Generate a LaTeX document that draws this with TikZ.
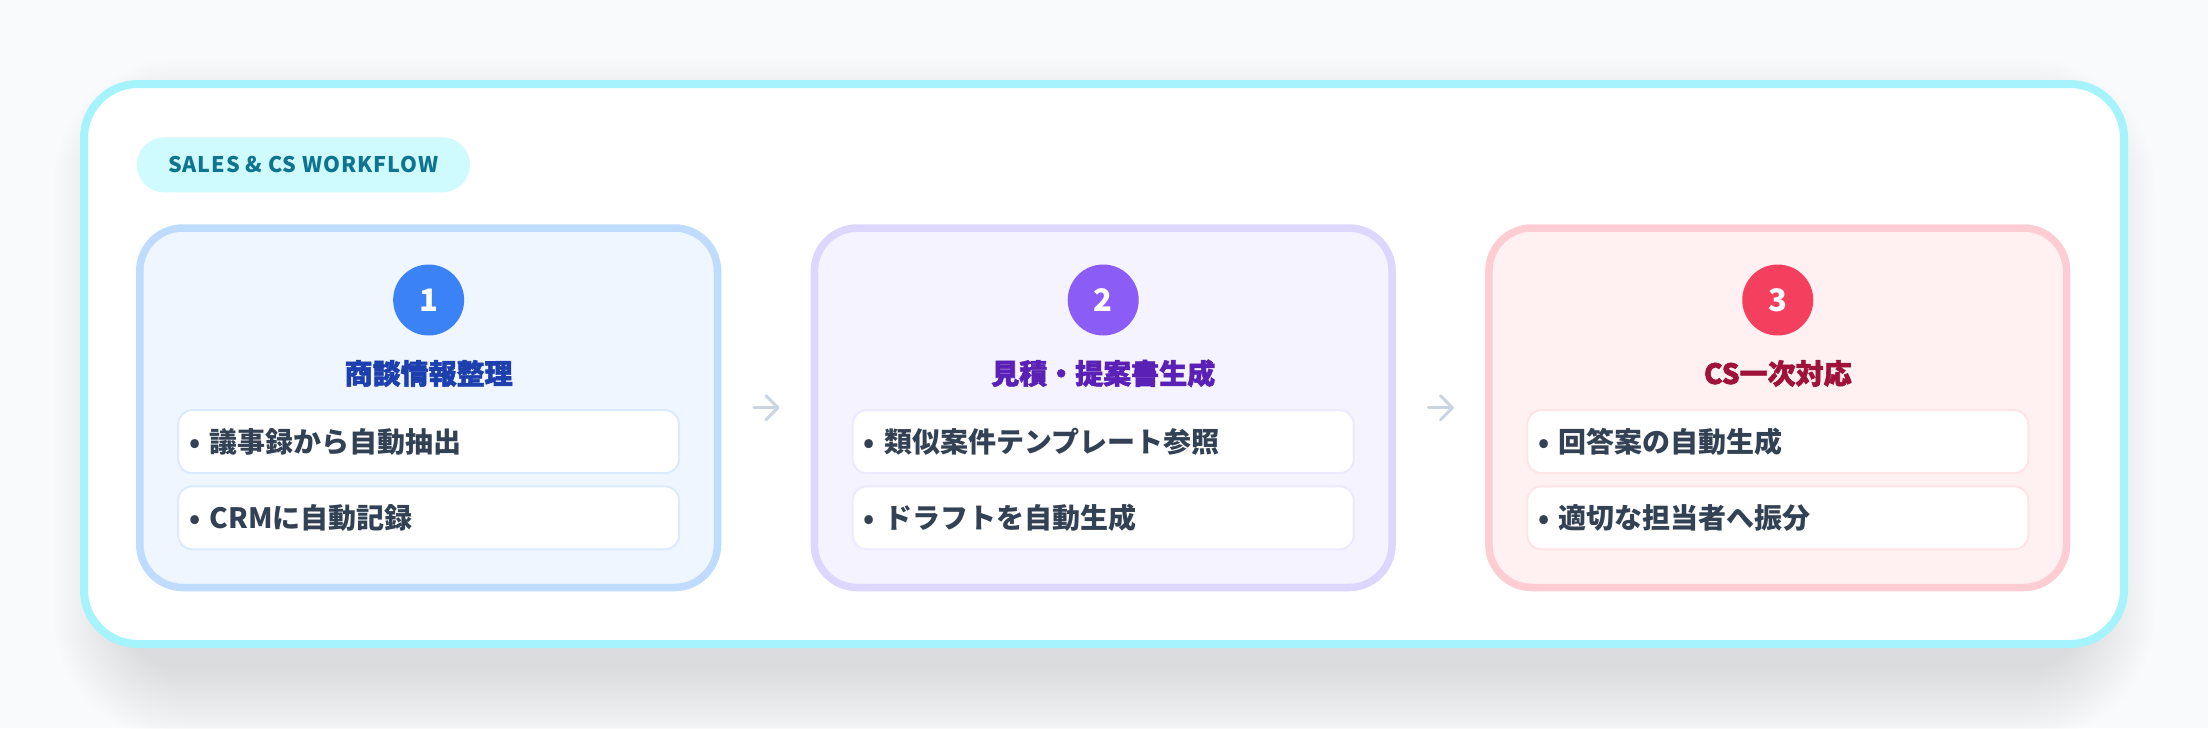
\documentclass[tikz,border=0pt]{standalone}
\usepackage{fontspec}
\setmainfont{Noto Sans CJK JP}
\newfontfamily\badgefont{Noto Sans CJK JP}[LetterSpace=4.5]
\newfontfamily\titlefont{Noto Sans CJK JP}[BoldFeatures={FakeBold=2}]
\usetikzlibrary{calc}
\definecolor{bgC}{HTML}{F8FAFC}
\definecolor{frameC}{HTML}{A5F3FC}
\definecolor{badgeFill}{HTML}{CFFAFE}
\definecolor{badgeText}{HTML}{0E7490}
\definecolor{itemText}{HTML}{334155}
\definecolor{arrowC}{HTML}{CBD5E1}
\definecolor{blueFill}{HTML}{EFF6FF}
\definecolor{blueLine}{HTML}{BFDBFE}
\definecolor{blueItem}{HTML}{DBEAFE}
\definecolor{blueDot}{HTML}{3B82F6}
\definecolor{blueTitle}{HTML}{1E40AF}
\definecolor{violetFill}{HTML}{F5F3FF}
\definecolor{violetLine}{HTML}{DDD6FE}
\definecolor{violetItem}{HTML}{EDE9FE}
\definecolor{violetDot}{HTML}{8B5CF6}
\definecolor{violetTitle}{HTML}{5B21B6}
\definecolor{roseFill}{HTML}{FFF1F2}
\definecolor{roseLine}{HTML}{FECDD3}
\definecolor{roseItem}{HTML}{FFE4E6}
\definecolor{roseDot}{HTML}{F43F5E}
\definecolor{roseTitle}{HTML}{9F1239}
\tikzset{
  frame/.style={draw=frameC, line width=8pt, fill=white, rounded corners=54pt,
    minimum width=2040pt, minimum height=560pt, inner sep=0pt},
  shadowlayer/.style={fill=black, fill opacity=0.0035},
  badge/.style={fill=badgeFill, rounded corners=27.5pt, minimum width=333pt, minimum height=55pt,
    inner sep=0pt, text=badgeText, font=\badgefont\bfseries\fontsize{21.5}{26}\selectfont},
  card/.style={line width=7.5pt, rounded corners=43pt, minimum width=577.7pt, minimum height=359.5pt, inner sep=0pt},
  numdot/.style={circle, minimum size=71pt, inner sep=0pt, text=white, font=\bfseries\fontsize{31}{36}\selectfont},
  ttl/.style={inner sep=0pt, font=\titlefont\bfseries\fontsize{28}{34}\selectfont, text height=24.6pt, text depth=3.4pt},
  item/.style={fill=white, line width=2pt, rounded corners=14pt, minimum width=501pt, minimum height=63pt,
    inner xsep=11pt, inner ysep=0pt, text width=479pt, align=left, text=itemText,
    font=\bfseries\fontsize{28}{34}\selectfont},
  arrowstroke/.style={draw=arrowC, line width=3pt, line cap=round, line join=round}
}
\begin{document}
\begin{tikzpicture}[x=1pt,y=-1pt]
\fill[bgC] (0,0) rectangle (2208,728);
\useasboundingbox (0,0) rectangle (2208,728);
% soft drop shadow of the frame
\foreach \k in {0,...,29}{
  \pgfmathsetmacro\rr{58+\k*2.5}
  \pgfmathsetmacro\ex{\k*2.5}
  \fill[shadowlayer, rounded corners=\rr pt] ({125-\ex},{130-\ex}) rectangle ({2083+\ex},{670+\ex});
}
\node[frame] (frame) at (1104,364) {};
\node[badge] (badge) at (303.4,164.8) {SALES \& CS WORKFLOW};
% cards
\node[card, draw=blueLine, fill=blueFill] (c1) at (428.65,407.75) {};
\node[card, draw=violetLine, fill=violetFill] (c2) at (1103.2,407.75) {};
\node[card, draw=roseLine, fill=roseFill] (c3) at (1777.75,407.75) {};
% numbers
\node[numdot, fill=blueDot] (n1) at (428.65,300) {1};
\node[numdot, fill=violetDot] (n2) at (1103.2,300) {2};
\node[numdot, fill=roseDot] (n3) at (1777.75,300) {3};
% titles
\node[ttl, text=blueTitle] (t1) at (428.65,373.4) {商談情報整理};
\node[ttl, text=violetTitle] (t2) at (1103.2,373.4) {見積・提案書生成};
\node[ttl, text=roseTitle] (t3) at (1777.75,373.4) {CS一次対応};
% items
\node[item, draw=blueItem] (i11) at (428.65,441.65) {• 議事録から自動抽出};
\node[item, draw=blueItem] (i12) at (428.65,517.85) {• CRMに自動記録};
\node[item, draw=violetItem] (i21) at (1103.2,441.65) {• 類似案件テンプレート参照};
\node[item, draw=violetItem] (i22) at (1103.2,517.85) {• ドラフトを自動生成};
\node[item, draw=roseItem] (i31) at (1777.75,441.65) {• 回答案の自動生成};
\node[item, draw=roseItem] (i32) at (1777.75,517.85) {• 適切な担当者へ振分};
% arrows between cards
\coordinate (a1) at ($(c1.east)!0.5!(c2.west)$);
\coordinate (a2) at ($(c2.east)!0.5!(c3.west)$);
\foreach \a in {a1,a2}{
  \draw[arrowstroke] ([xshift=-12pt]\a) -- ([xshift=12pt]\a);
  \draw[arrowstroke] ([xshift=0pt,yshift=12pt]\a) -- ([xshift=12pt]\a) -- ([xshift=0pt,yshift=-12pt]\a);
}
\end{tikzpicture}
\end{document}
